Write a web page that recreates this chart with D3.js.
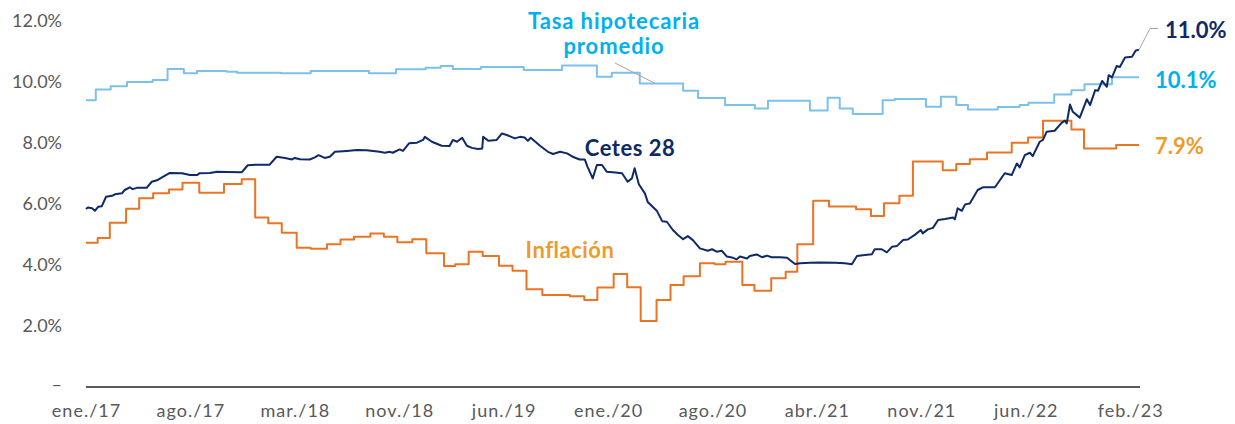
<!DOCTYPE html>
<html>
<head>
<meta charset="utf-8">
<script src="https://cdn.jsdelivr.net/npm/d3@7"></script>
<style>
  body { margin: 0; background: #fff; }
  svg { display: block; font-family: Lato, "DejaVu Sans", sans-serif; }
</style>
</head>
<body>
<script>
// Tasas (%): Cetes 28 dias, inflacion anual y tasa hipotecaria promedio

var cetes28 = [
  ["2017-01-05", 5.83], ["2017-01-09", 5.88], ["2017-01-18", 5.85], ["2017-01-24", 5.77],
  ["2017-01-31", 5.90], ["2017-02-08", 5.92], ["2017-02-17", 6.23], ["2017-03-02", 6.26],
  ["2017-03-08", 6.31], ["2017-03-23", 6.34], ["2017-03-29", 6.45], ["2017-04-09", 6.54],
  ["2017-04-15", 6.48], ["2017-04-24", 6.52], ["2017-05-15", 6.52], ["2017-05-26", 6.72],
  ["2017-06-08", 6.78], ["2017-06-19", 6.88], ["2017-07-04", 7.01], ["2017-07-30", 7.00],
  ["2017-08-16", 6.94], ["2017-08-31", 6.94], ["2017-09-06", 7.00], ["2017-09-28", 7.01],
  ["2017-10-13", 7.05], ["2017-11-03", 7.04], ["2017-12-05", 7.03], ["2017-12-18", 7.26],
  ["2018-01-06", 7.28], ["2018-02-03", 7.28], ["2018-02-18", 7.54], ["2018-03-08", 7.50],
  ["2018-03-23", 7.45], ["2018-03-29", 7.50], ["2018-04-09", 7.46], ["2018-04-30", 7.45],
  ["2018-05-11", 7.52], ["2018-05-19", 7.59], ["2018-06-01", 7.50], ["2018-06-12", 7.54],
  ["2018-06-23", 7.70], ["2018-07-19", 7.73], ["2018-08-09", 7.76], ["2018-08-30", 7.75],
  ["2018-09-27", 7.70], ["2018-10-08", 7.67], ["2018-10-19", 7.70], ["2018-10-25", 7.67],
  ["2018-11-09", 7.78], ["2018-11-16", 7.73], ["2018-11-29", 7.98], ["2018-12-16", 8.00],
  ["2018-12-29", 8.09], ["2019-01-02", 8.19], ["2019-01-17", 8.03], ["2019-02-07", 7.90],
  ["2019-02-24", 7.89], ["2019-03-03", 8.09], ["2019-03-12", 8.03], ["2019-03-23", 8.16],
  ["2019-04-02", 7.90], ["2019-04-13", 7.83], ["2019-04-26", 7.79], ["2019-05-05", 7.81],
  ["2019-05-07", 8.19], ["2019-05-18", 8.06], ["2019-06-05", 8.09], ["2019-06-16", 8.30],
  ["2019-06-27", 8.25], ["2019-07-14", 8.14], ["2019-07-25", 8.19], ["2019-08-04", 8.17],
  ["2019-08-11", 8.06], ["2019-08-17", 8.16], ["2019-09-06", 7.90], ["2019-09-23", 7.70],
  ["2019-10-04", 7.63], ["2019-10-19", 7.70], ["2019-11-03", 7.65], ["2019-11-15", 7.54],
  ["2019-11-30", 7.45], ["2019-12-11", 7.45], ["2019-12-17", 7.21], ["2019-12-28", 6.83],
  ["2020-01-06", 7.27], ["2020-01-17", 7.27], ["2020-01-27", 7.05], ["2020-02-09", 7.03],
  ["2020-02-29", 7.00], ["2020-03-12", 6.72], ["2020-03-21", 6.83], ["2020-03-27", 7.16],
  ["2020-04-05", 6.64], ["2020-04-18", 6.34], ["2020-04-24", 6.06], ["2020-05-14", 5.76],
  ["2020-05-25", 5.43], ["2020-06-04", 5.41], ["2020-06-17", 5.14], ["2020-06-28", 4.98],
  ["2020-07-09", 4.84], ["2020-07-19", 4.94], ["2020-07-30", 4.81], ["2020-08-14", 4.54],
  ["2020-08-31", 4.46], ["2020-09-09", 4.51], ["2020-09-19", 4.43], ["2020-09-30", 4.46],
  ["2020-10-11", 4.27], ["2020-10-24", 4.23], ["2020-11-01", 4.18], ["2020-11-08", 4.27],
  ["2020-11-23", 4.21], ["2020-11-29", 4.29], ["2020-12-14", 4.34], ["2020-12-25", 4.25],
  ["2021-01-05", 4.30], ["2021-01-15", 4.25], ["2021-02-02", 4.25], ["2021-02-17", 4.23],
  ["2021-02-23", 4.16], ["2021-03-06", 4.03], ["2021-03-17", 4.05], ["2021-04-07", 4.07],
  ["2021-04-29", 4.08], ["2021-05-31", 4.07], ["2021-06-21", 4.05], ["2021-07-06", 4.02],
  ["2021-07-17", 4.29], ["2021-08-03", 4.32], ["2021-08-18", 4.35], ["2021-08-24", 4.51],
  ["2021-09-08", 4.51], ["2021-09-19", 4.41], ["2021-09-30", 4.59], ["2021-10-11", 4.62],
  ["2021-10-24", 4.81], ["2021-11-03", 4.83], ["2021-11-18", 4.98], ["2021-12-01", 5.14],
  ["2021-12-05", 5.03], ["2021-12-16", 5.16], ["2021-12-27", 5.21], ["2022-01-07", 5.47],
  ["2022-01-22", 5.50], ["2022-02-08", 5.55], ["2022-02-12", 5.49], ["2022-02-18", 5.85],
  ["2022-02-27", 5.77], ["2022-03-06", 5.98], ["2022-03-16", 6.01], ["2022-04-02", 6.45],
  ["2022-04-13", 6.54], ["2022-05-09", 6.54], ["2022-05-30", 7.00], ["2022-06-14", 6.94],
  ["2022-06-25", 7.32], ["2022-07-01", 7.19], ["2022-07-12", 7.59], ["2022-07-23", 7.67],
  ["2022-07-29", 7.56], ["2022-08-13", 8.03], ["2022-08-20", 8.09], ["2022-08-28", 8.36],
  ["2022-09-14", 8.39], ["2022-09-29", 8.65], ["2022-10-06", 8.72], ["2022-10-10", 8.63],
  ["2022-10-17", 9.25], ["2022-10-23", 9.01], ["2022-11-07", 8.82], ["2022-11-22", 9.42],
  ["2022-11-29", 9.23], ["2022-12-10", 9.72], ["2022-12-16", 9.70], ["2022-12-25", 10.02],
  ["2023-01-04", 9.83], ["2023-01-08", 10.21], ["2023-01-15", 10.14], ["2023-01-25", 10.51],
  ["2023-02-01", 10.48], ["2023-02-12", 10.79], ["2023-02-27", 10.81], ["2023-03-07", 11.02],
  ["2023-03-14", 11.04]
];

// inflacion: valor vigente desde cada fecha (escalones)
var inflacion = [
  ["2017-01-05", 4.72], ["2017-01-30", 4.88], ["2017-02-25", 5.38], ["2017-04-01", 5.84],
  ["2017-04-29", 6.18], ["2017-05-29", 6.34], ["2017-07-02", 6.47], ["2017-07-31", 6.69],
  ["2017-09-05", 6.36], ["2017-10-28", 6.65], ["2017-12-05", 6.80], ["2018-01-03", 5.55],
  ["2018-01-31", 5.36], ["2018-03-01", 5.05], ["2018-04-02", 4.56], ["2018-05-02", 4.53],
  ["2018-06-06", 4.67], ["2018-07-05", 4.83], ["2018-08-03", 4.92], ["2018-09-07", 5.03],
  ["2018-10-06", 4.92], ["2018-11-04", 4.74], ["2018-12-06", 4.84], ["2019-01-05", 4.38],
  ["2019-02-12", 3.96], ["2019-03-08", 4.02], ["2019-04-06", 4.43], ["2019-05-06", 4.29],
  ["2019-06-10", 3.97], ["2019-07-09", 3.81], ["2019-08-08", 3.20], ["2019-09-11", 3.01],
  ["2019-11-09", 2.97], ["2019-12-10", 2.85], ["2020-01-07", 3.26], ["2020-02-11", 3.70],
  ["2020-03-11", 3.27], ["2020-04-09", 2.16], ["2020-05-13", 2.85], ["2020-06-12", 3.34],
  ["2020-07-10", 3.63], ["2020-08-14", 4.05], ["2020-09-15", 4.02], ["2020-10-08", 4.10],
  ["2020-11-13", 3.34], ["2020-12-09", 3.15], ["2021-01-14", 3.56], ["2021-02-14", 3.77],
  ["2021-03-11", 4.67], ["2021-04-14", 6.10], ["2021-05-18", 5.91], ["2021-07-15", 5.82],
  ["2021-08-16", 5.60], ["2021-09-13", 6.02], ["2021-10-16", 6.26], ["2021-11-14", 7.38],
  ["2022-01-17", 7.10], ["2022-02-15", 7.30], ["2022-03-16", 7.46], ["2022-04-22", 7.68],
  ["2022-06-14", 8.00], ["2022-07-19", 8.17], ["2022-08-20", 8.72], ["2022-10-20", 8.43],
  ["2022-11-16", 7.81], ["2023-01-24", 7.92], ["2023-03-14", 7.92]
];

var tasaHipotecaria = [
  ["2017-01-05", 9.39], ["2017-01-26", 9.74], ["2017-02-27", 9.85], ["2017-04-03", 9.99],
  ["2017-05-28", 10.05], ["2017-06-29", 10.41], ["2017-08-03", 10.27], ["2017-08-31", 10.35],
  ["2017-11-03", 10.32], ["2017-11-25", 10.29], ["2018-02-27", 10.27], ["2018-05-02", 10.35],
  ["2018-09-04", 10.27], ["2018-11-01", 10.40], ["2019-01-04", 10.45], ["2019-02-05", 10.51],
  ["2019-03-03", 10.41], ["2019-05-02", 10.48], ["2019-08-02", 10.38], ["2019-10-23", 10.53],
  ["2020-01-06", 10.16], ["2020-02-07", 10.29], ["2020-04-07", 9.94], ["2020-07-09", 9.70],
  ["2020-08-10", 9.46], ["2020-10-07", 9.23], ["2020-12-10", 9.12], ["2021-01-07", 9.37],
  ["2021-04-07", 9.05], ["2021-05-15", 9.47], ["2021-06-10", 9.12], ["2021-07-08", 8.94],
  ["2021-09-10", 9.39], ["2021-10-06", 9.43], ["2021-12-12", 9.18], ["2022-01-13", 9.50],
  ["2022-02-15", 9.23], ["2022-03-12", 9.09], ["2022-05-15", 9.17], ["2022-07-01", 9.23],
  ["2022-07-20", 9.31], ["2022-09-13", 9.58], ["2022-10-20", 9.72], ["2022-11-17", 9.91],
  ["2023-01-15", 10.14], ["2023-03-14", 10.14]
];

var tickDates = ["2017-01-05", "2017-08-17", "2018-03-29", "2018-11-08", "2019-06-20", "2020-01-30",
  "2020-09-10", "2021-04-22", "2021-12-02", "2022-07-14", "2023-02-23"];
var tickLabels = ["ene./17", "ago./17", "mar./18", "nov./18", "jun./19", "ene./20",
  "ago./20", "abr./21", "nov./21", "jun./22", "feb./23"];
var yTicks = [0, 2, 4, 6, 8, 10, 12];

function main() {
  var width = 1235;
  var height = 424;
  var parse = d3.timeParse("%Y-%m-%d");

  var svg = d3.select("body").append("svg")
    .attr("width", width)
    .attr("height", height);

  var x = d3.scaleTime()
    .domain([parse("2017-01-05"), parse("2023-03-14")])
    .range([86, 1139]);

  var y = d3.scaleLinear()
    .domain([0, 12])
    .range([387, 20.5]);

  // y labels (no axis line), 0 shown as a dash
  svg.append("g").selectAll("text")
    .data(yTicks)
    .enter().append("text")
    .attr("x", 62)
    .attr("y", function (d) { return d === 0 ? y(d) - 2 : y(d); })
    .attr("dy", "0.35em")
    .attr("text-anchor", "end")
    .attr("font-size", 18)
    .attr("fill", "#595959")
    .text(function (d) { return d === 0 ? "–" : d.toFixed(1) + "%"; });

  // x axis
  var xAxis = d3.axisBottom(x)
    .tickValues(tickDates.map(parse))
    .tickSize(0)
    .tickPadding(17)
    .tickFormat(function (d, i) { return tickLabels[i]; });

  var gx = svg.append("g")
    .attr("transform", "translate(0," + y(0) + ")")
    .call(xAxis);
  gx.select(".domain")
    .attr("d", "M86,0H1140")
    .attr("stroke", "#595959")
    .attr("stroke-width", 2);
  gx.selectAll("text")
    .attr("font-family", "Lato, sans-serif")
    .attr("font-size", 18)
    .attr("letter-spacing", "1px")
    .attr("fill", "#595959");

  function rows(arr) {
    return arr.map(function (d) { return { date: parse(d[0]), value: d[1] }; });
  }

  var line = d3.line()
    .x(function (d) { return x(d.date); })
    .y(function (d) { return y(d.value); });
  var stepLine = d3.line()
    .curve(d3.curveStepAfter)
    .x(function (d) { return x(d.date); })
    .y(function (d) { return y(d.value); });

  var series = [
    { data: rows(tasaHipotecaria), gen: stepLine, color: "#7cc1ea" },
    { data: rows(inflacion), gen: stepLine, color: "#ea7423" },
    { data: rows(cetes28), gen: line, color: "#0e2a66" }
  ];

  svg.append("g").selectAll("path")
    .data(series)
    .enter().append("path")
    .attr("fill", "none")
    .attr("stroke", function (d) { return d.color; })
    .attr("stroke-width", 2)
    .attr("stroke-linejoin", "round")
    .attr("d", function (d) { return d.gen(d.data); });

  // leader lines
  var lastC = series[2].data[series[2].data.length - 1];
  svg.append("path")
    .attr("fill", "none")
    .attr("stroke", "#a6a6a6")
    .attr("stroke-width", 1)
    .attr("d", "M" + x(lastC.date) + "," + y(lastC.value) + "L1150,28.5H1158");
  svg.append("line")
    .attr("x1", 615).attr("y1", 63)
    .attr("x2", x(parse("2020-05-10"))).attr("y2", y(9.94))
    .attr("stroke", "#a6a6a6")
    .attr("stroke-width", 1);

  // labels
  var labels = [
    { t: "Tasa hipotecaria", x: 614, y: 28.5, c: "#00b0f0", a: "middle", ls: 0.9 },
    { t: "promedio", x: 614, y: 53.5, c: "#00b0f0", a: "middle", ls: 0.9 },
    { t: "Cetes 28", x: 630, y: 156, c: "#0e2a66", a: "middle", ls: 0.5 },
    { t: "Inflación", x: 570, y: 257.5, c: "#ee9b2c", a: "middle", ls: 0.5 },
    { t: "11.0%", x: 1165, y: 37.5, c: "#0e2a66", a: "start", ls: 0 },
    { t: "10.1%", x: 1155, y: 87.5, c: "#00b0f0", a: "start", ls: 0 },
    { t: "7.9%", x: 1155, y: 154, c: "#ee9b2c", a: "start", ls: 0 }
  ];
  svg.append("g").selectAll("text")
    .data(labels)
    .enter().append("text")
    .attr("x", function (d) { return d.x; })
    .attr("y", function (d) { return d.y; })
    .attr("text-anchor", function (d) { return d.a; })
    .attr("letter-spacing", function (d) { return d.ls + "px"; })
    .attr("font-size", 22)
    .attr("font-weight", "bold")
    .attr("fill", function (d) { return d.c; })
    .text(function (d) { return d.t; });
}
document.addEventListener("DOMContentLoaded", main);
</script>
</body>
</html>
